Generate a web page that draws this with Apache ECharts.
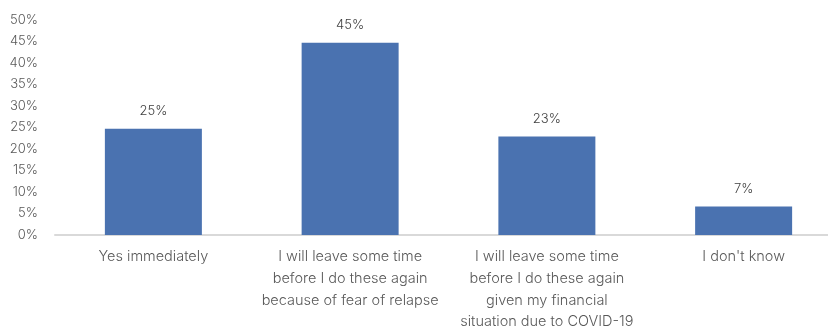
<!DOCTYPE html>
<html>
<head>
<meta charset="utf-8">
<script src="https://cdn.jsdelivr.net/npm/echarts@6/dist/echarts.min.js"></script>
<style>
  html, body { margin: 0; padding: 0; background: #ffffff; }
  #chart { width: 828px; height: 330px; }
</style>
</head>
<body>
<div id="chart"></div>
<script>
// Survey answers and their shares (percent)
const categories = [
  'Yes immediately',
  'I will leave some time\nbefore I do these again\nbecause of fear of relapse',
  'I will leave some time\nbefore I do these again\ngiven my financial\nsituation due to COVID-19',
  "I don't know"
];
const shares = [24.7, 44.7, 22.9, 6.6];
const yTicks = { min: 0, max: 50, step: 5 };

const FONT = 'Inter, "Noto Sans", sans-serif';

const chart = echarts.init(document.getElementById('chart'), null, { renderer: 'canvas' });
chart.setOption({
  animation: false,
  backgroundColor: '#ffffff',
  grid: {
    left: 55, top: 20, right: -14, bottom: 95,
    containLabel: false,
    outerBoundsMode: 'none'
  },
  xAxis: {
    type: 'category',
    data: categories,
    axisLine: { show: true, lineStyle: { color: '#d9d9d9', width: 2 } },
    axisTick: { show: false },
    axisLabel: {
      interval: 0,
      margin: 11,
      color: '#595959',
      fontFamily: FONT,
      fontWeight: 300,
      fontSize: 14.5,
      lineHeight: 21.7
    },
    splitLine: { show: false }
  },
  yAxis: {
    type: 'value',
    min: yTicks.min,
    max: yTicks.max,
    interval: yTicks.step,
    axisLine: { show: false },
    axisTick: { show: false },
    splitLine: { show: false },
    axisLabel: {
      margin: 17,
      color: '#595959',
      fontFamily: FONT,
      fontWeight: 300,
      fontSize: 13,
      formatter: v => v + '%'
    }
  },
  series: [{
    type: 'bar',
    data: shares,
    barWidth: 97,
    itemStyle: { color: '#4a72b0' },
    label: {
      show: true,
      position: 'top',
      distance: 11,
      color: '#404040',
      fontFamily: FONT,
      fontWeight: 300,
      fontSize: 13,
      formatter: p => Math.round(p.value) + '%'
    }
  }]
});
</script>
</body>
</html>
